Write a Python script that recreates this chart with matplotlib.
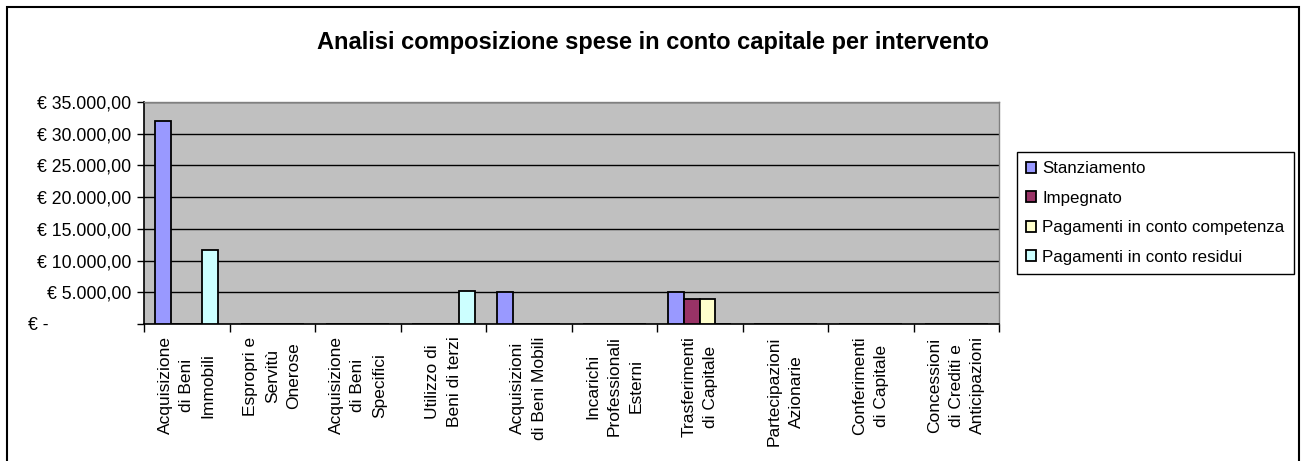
import numpy as np
import matplotlib
matplotlib.use('Agg')
import matplotlib.pyplot as plt
from matplotlib.patches import Rectangle
from matplotlib.ticker import FuncFormatter

plt.rcParams['font.family'] = ['Liberation Sans', 'DejaVu Sans']

categories = ['Acquisizione\ndi Beni\nImmobili', 'Espropri e\nServitù\nOnerose',
              'Acquisizione\ndi Beni\nSpecifici', 'Utilizzo di\nBeni di terzi',
              'Acquisizioni\ndi Beni Mobili', 'Incarichi\nProfessionali\nEsterni',
              'Trasferimenti\ndi Capitale', 'Partecipazioni\nAzionarie',
              'Conferimenti\ndi Capitale', 'Concessioni\ndi Crediti e\nAnticipazioni']

stanziamento = [32000, 0, 0, 0, 5000, 0, 5000, 0, 0, 0]
impegnato = [0, 0, 0, 0, 0, 0, 4000, 0, 0, 0]
pag_competenza = [0, 0, 0, 0, 0, 0, 4000, 0, 0, 0]
pag_residui = [11600, 0, 0, 5250, 0, 0, 0, 0, 0, 0]

series = [('Stanziamento', stanziamento, '#9999FF'),
          ('Impegnato', impegnato, '#993366'),
          ('Pagamenti in conto competenza', pag_competenza, '#FFFFCC'),
          ('Pagamenti in conto residui', pag_residui, '#CCFFFF')]

fig = plt.figure(figsize=(13.01, 4.61), dpi=100)
ax = fig.add_axes([144/1301, (461-324)/461, (999-144)/1301, (324-102)/461])
ax.set_facecolor('#C0C0C0')

x = np.arange(len(categories))
w = 0.184
for k, (name, vals, col) in enumerate(series):
    ax.bar(x + (k - 1.5) * w, vals, w, color=col, edgecolor='black', linewidth=1.3, label=name, zorder=3)

ax.set_xlim(-0.5, len(categories) - 0.5)
ax.set_ylim(0, 35000)
ax.set_yticks(np.arange(0, 35001, 5000))
ax.yaxis.grid(True, color='black', linewidth=1, zorder=1)
ax.set_axisbelow(True)

def euro(v, pos):
    if v == 0:
        return '€ -' + ' ' * 17
    return '€ ' + f'{v:,.2f}'.replace(',', 'X').replace('.', ',').replace('X', '.')

ax.yaxis.set_major_formatter(FuncFormatter(euro))
ax.tick_params(axis='y', labelsize=12.7, length=5, width=1, direction='out', pad=4)

ax.set_xticks(x)
ax.set_xticklabels(categories, rotation=90, va='top', ha='center', multialignment='center',
                   linespacing=1.55, fontsize=12.5)
ax.tick_params(axis='x', which='major', length=0, pad=9)
ax.set_xticks(np.arange(-0.5, len(categories)), minor=True)
ax.tick_params(axis='x', which='minor', length=6, width=1, direction='out')

for s in ['top', 'right']:
    ax.spines[s].set_color('#808080')
    ax.spines[s].set_linewidth(1)
for s in ['left', 'bottom']:
    ax.spines[s].set_color('black')
    ax.spines[s].set_linewidth(1.2)

fig.text(653/1301, (461-42)/461, 'Analisi composizione spese in conto capitale per intervento',
         ha='center', va='center', fontsize=17, fontweight='bold')

leg = fig.legend(loc='upper left', bbox_to_anchor=(1017/1301, (461-152)/461), fontsize=12.2,
                 frameon=True, fancybox=False, edgecolor='black', framealpha=1,
                 handlelength=0.6, handleheight=0.6, handletextpad=0.35,
                 labelspacing=0.85, borderpad=0.55, borderaxespad=0)
leg.get_frame().set_linewidth(1)

fig.patches.append(Rectangle((7/1301, -0.01), 1292/1301, (461-7)/461 + 0.01,
                             transform=fig.transFigure, fill=False, edgecolor='black', linewidth=1.5))

fig.savefig('out.png', dpi=100)
